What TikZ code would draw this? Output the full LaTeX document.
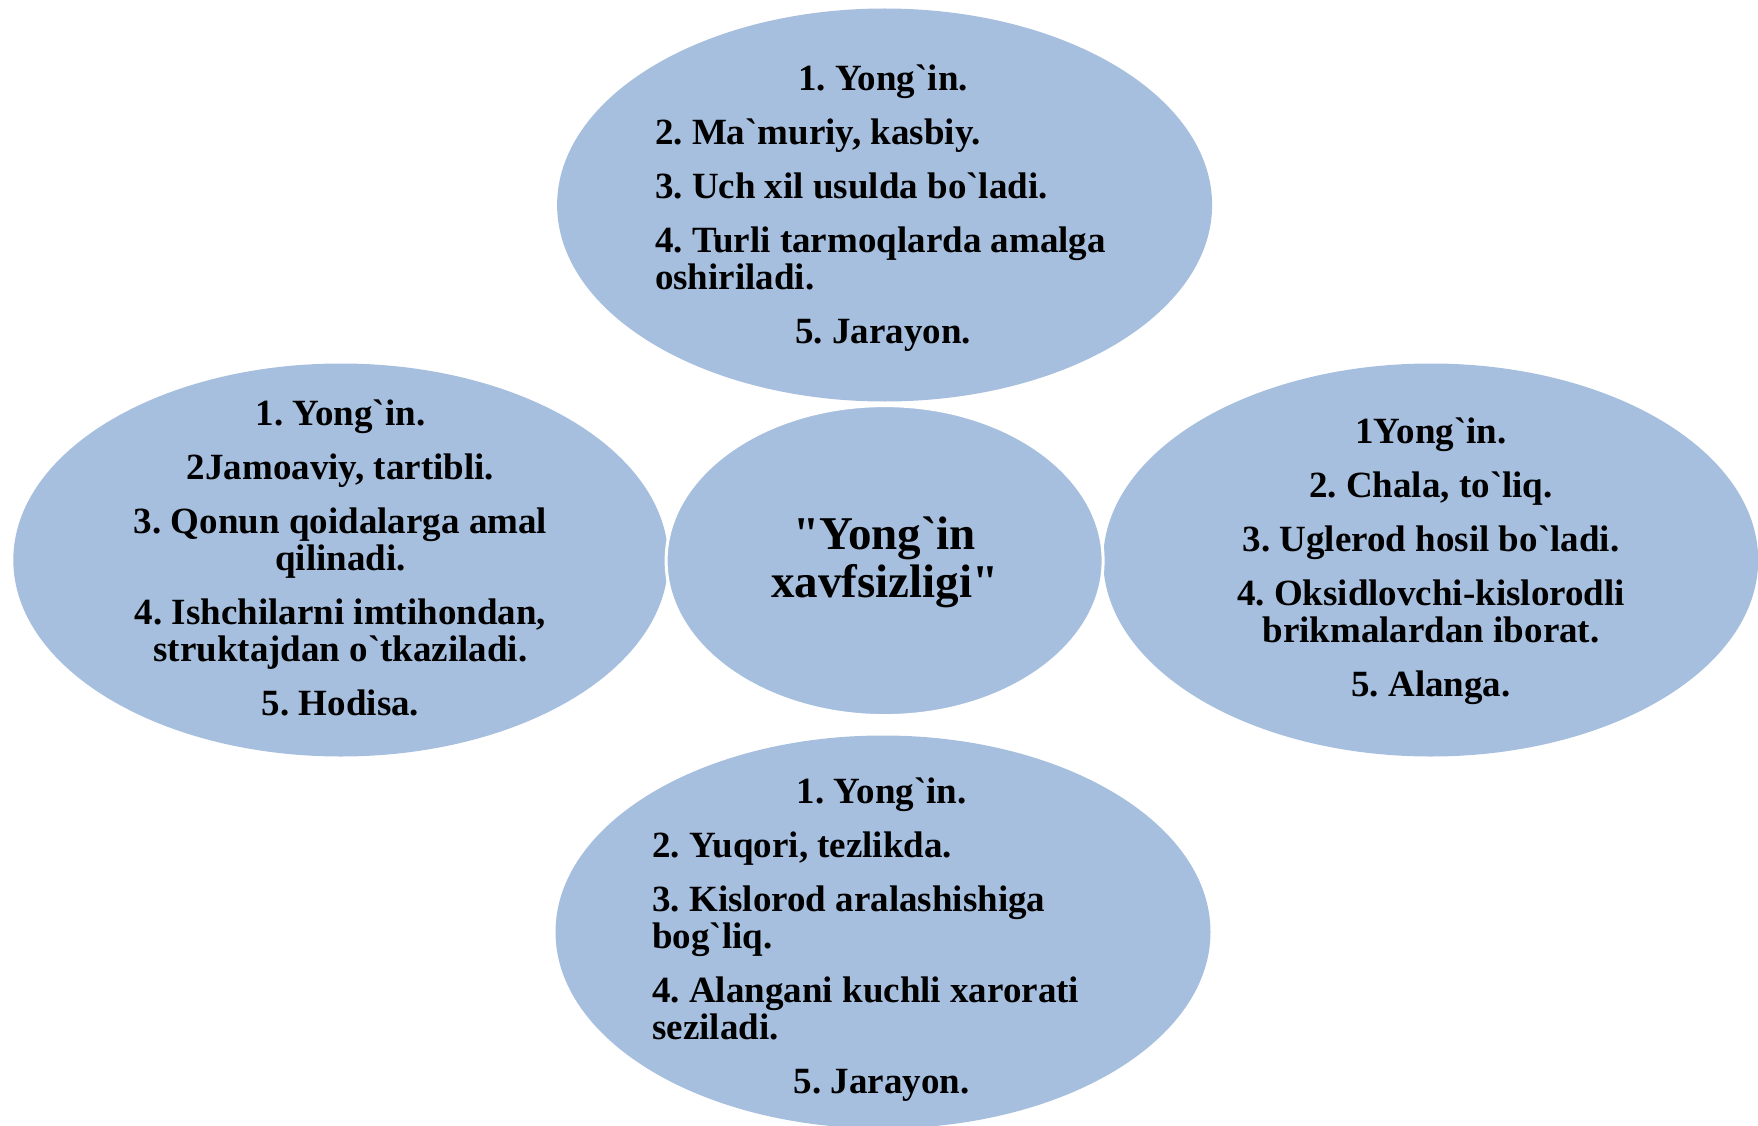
\documentclass[tikz,border=0pt]{standalone}
\usepackage{fontspec}
\usetikzlibrary{shapes.geometric,positioning}
\newfontfamily\ykfont{Liberation Serif}
\definecolor{ykFill}{HTML}{A7BFDE}
\tikzset{
  ykOval/.style={ellipse,fill=ykFill,draw=none,inner sep=0pt,
    minimum width=655pt,minimum height=393pt},
  ykHub/.style={ellipse,fill=ykFill,draw=white,line width=3pt,inner sep=0pt,
    minimum width=437pt,minimum height=310pt},
  ykText/.style={inner sep=0pt,font=\ykfont\bfseries\fontsize{37pt}{37pt}\selectfont},
  ykTitle/.style={inner sep=0pt,align=center,
    font=\ykfont\bfseries\fontsize{47pt}{48pt}\selectfont}
}
\newcommand{\ykc}[1]{{\centering #1\par}}
\newcommand{\ykl}[1]{{\raggedright #1\par}}
\newcommand{\ykblock}[2]{\begin{minipage}{#1}\frenchspacing\setlength{\parskip}{17pt}#2\end{minipage}}
\begin{document}
\begin{tikzpicture}[x=1pt,y=-1pt]
\useasboundingbox (0,0) rectangle (1758,1126);
% outer ovals
\node[ykOval] (top) at (884.6,205) {};
\node[ykOval] (left) at (340.8,560) {};
\node[ykOval] (right) at (1430.7,560) {};
\node[ykOval] (bottom) at (883,932) {};
% hub
\node[ykHub] (hub) at (884.6,560.6) {};
\node[ykTitle] (hubT) at (884.6,562.5) {"Yong`in\\xavfsizligi"};
% texts
\node[ykText] (topT) at (883,208) {\ykblock{456pt}{%
  \ykc{1. Yong`in.}
  \ykl{2. Ma`muriy, kasbiy.}
  \ykl{3. Uch xil usulda bo`ladi.}
  \ykl{4. Turli tarmoqlarda amalga\\oshiriladi.}
  \ykc{5. Jarayon.}}};
\node[ykText] (leftT) at (340.5,558.4) {\ykblock{520pt}{%
  \ykc{1. Yong`in.}
  \ykc{2Jamoaviy, tartibli.}
  \ykc{3. Qonun qoidalarga amal\\qilinadi.}
  \ykc{4. Ishchilarni imtihondan,\\struktajdan o`tkaziladi.}
  \ykc{5. Hodisa.}}};
\node[ykText] (rightT) at (1431,561) {\ykblock{520pt}{%
  \ykc{1Yong`in.}
  \ykc{2. Chala, to`liq.}
  \ykc{3. Uglerod hosil bo`ladi.}
  \ykc{4. Oksidlovchi-kislorodli\\brikmalardan iborat.}
  \ykc{5. Alanga.}}};
\node[ykText] (bottomT) at (881.8,940) {\ykblock{459pt}{%
  \ykc{1. Yong`in.}
  \ykl{2. Yuqori, tezlikda.}
  \ykl{3. Kislorod aralashishiga\\bog`liq.}
  \ykl{4. Alangani kuchli xarorati\\seziladi.}
  \ykc{5. Jarayon.}}};
\end{tikzpicture}
\end{document}
